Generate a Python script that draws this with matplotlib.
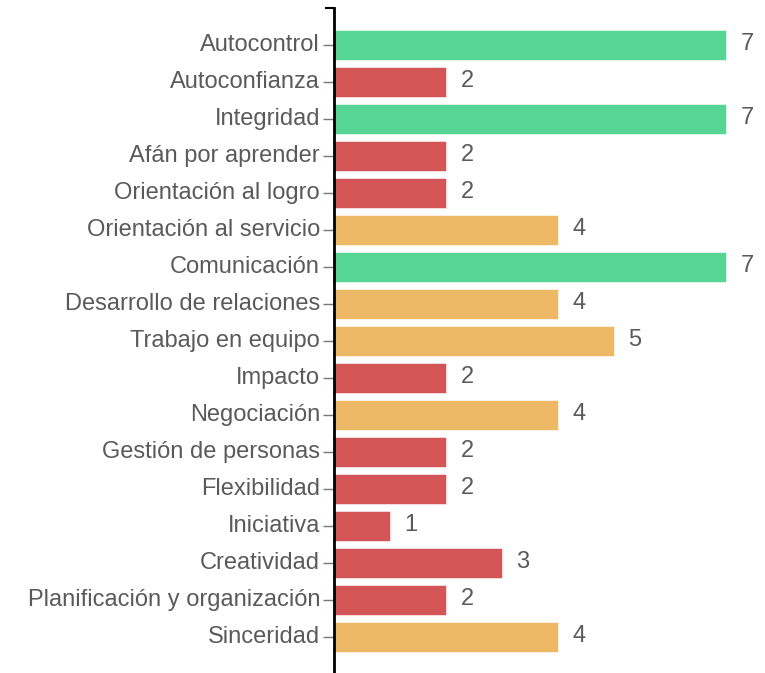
import matplotlib.pyplot as plt

categories = ['Autocontrol', 'Autoconfianza', 'Integridad', 'Afán por aprender',
              'Orientación al logro', 'Orientación al servicio', 'Comunicación',
              'Desarrollo de relaciones', 'Trabajo en equipo', 'Impacto',
              'Negociación', 'Gestión de personas', 'Flexibilidad', 'Iniciativa',
              'Creatividad', 'Planificación y organización', 'Sinceridad']
values = [7, 2, 7, 2, 2, 4, 7, 4, 5, 2, 4, 2, 2, 1, 3, 2, 4]


def bar_color(v):
    if v >= 7:
        return '#56d594'
    if v >= 4:
        return '#edb967'
    return '#d45556'


plt.rcParams['font.family'] = ['Liberation Sans', 'DejaVu Sans']
W, H = 765, 673
fig = plt.figure(figsize=(W / 100, H / 100), dpi=100)
ax = fig.add_axes([334 / W, 0, (W - 334) / W, 1 - 8 / H])

ypos = list(range(len(categories)))
ax.barh(ypos, values, height=0.81, color=[bar_color(v) for v in values],
        edgecolor='white', linewidth=0.4)
for y, v in zip(ypos, values):
    ax.text(v + 0.26, y - 0.03, str(v), va='center', ha='left', fontsize=17, color='#5a5a5a')

ax.set_xlim(0, (W - 334) / 56)
ax.set_ylim(16.97, -1.0)
ax.set_yticks(ypos)
ax.set_yticklabels(categories, fontsize=17, color='#5a5a5a', va='center')
ax.tick_params(axis='y', length=8, width=1, color='#777777', pad=2)
ax.set_xticks([])
for s in ['top', 'right', 'bottom']:
    ax.spines[s].set_visible(False)
ax.spines['left'].set_linewidth(2)
ax.spines['left'].set_color('black')
# outer tick at top of axis
ax.plot([-0.15, 0], [-1.0, -1.0], color='black', lw=1.5, clip_on=False)

fig.savefig('out.png', dpi=100)
